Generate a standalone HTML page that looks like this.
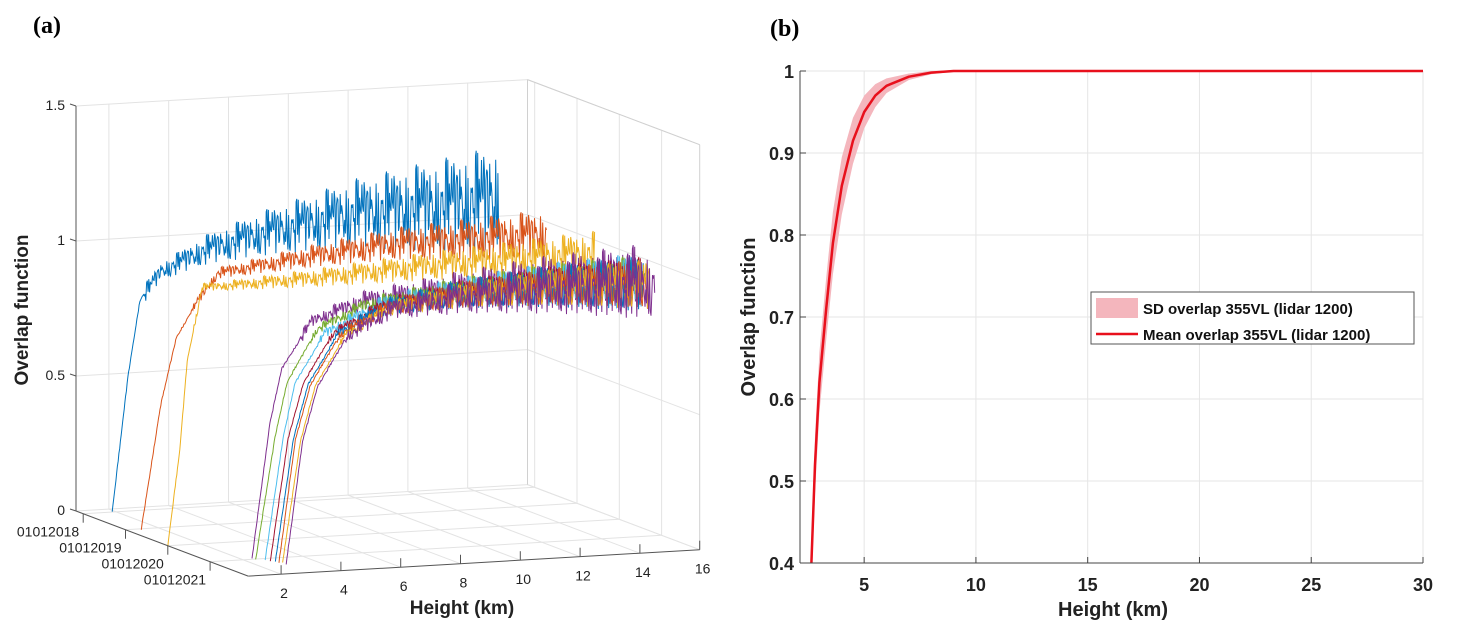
<!DOCTYPE html>
<html><head><meta charset="utf-8">
<style>
body{margin:0;background:#fff;}
svg{display:block;font-family:"Liberation Sans",Arial,sans-serif;}
</style></head>
<body>
<svg id="fig" width="1467" height="642" viewBox="0 0 1467 642">
<text x="33" y="33" font-family="Liberation Serif,serif" font-weight="bold" font-size="24">(a)</text>
<text x="770" y="36" font-family="Liberation Serif,serif" font-weight="bold" font-size="24">(b)</text>
<g id="pa"></g>
<g id="pb"></g>
</svg>
<script>
// ---------- Panel (a) data ----------
const yearLabels = ["01012018","01012019","01012020","01012021"];
const heightTicks = [2,4,6,8,10,12,14,16];
const zTicks = [0,0.5,1,1.5];
const seriesColors = ["#0072BD","#D95319","#EDB120","#7E2F8E","#77AC30","#4DBEEE","#A2142F","#0072BD","#D95319","#EDB120","#7E2F8E"];
const seriesDates = [0,1,2,3.0,3.05,3.1,3.15,3.2,3.25,3.3,3.35];
const seriesEnd = [14.8,15,15.2,15.2,15.2,15.2,15.2,15.2,15.2,15.2,15.3];
const anchorH = [
 [1.87,2.4,2.8,3.5,5,7,10,14.8],
 [1.43,2.07,2.6,3.3,4,7,10,15],
 [0.9,1.3,1.55,2.05,3,6,10,15.2],
 [2.3,2.9,3.3,4.3,6,9,12,15.2],
 [2.35,3.0,3.4,4.4,6,9,12,15.2],
 [2.6,3.2,3.6,4.6,6.5,9,12,15.2],
 [2.7,3.3,3.8,4.8,6.5,9,12,15.2],
 [2.8,3.4,3.9,4.9,6.5,9,12,15.2],
 [2.85,3.4,3.9,4.9,6.5,9,12,15.2],
 [2.9,3.5,4.0,5.0,6.5,9,12,15.2],
 [2.95,3.5,4.0,5.0,6.5,9,12,15.3]
];
const anchorZ = [
 [0,0.5,0.78,0.88,0.95,1.0,1.05,1.07],
 [0,0.45,0.7,0.83,0.93,0.97,1.0,1.0],
 [0,0.35,0.68,0.95,0.95,0.96,0.98,0.99],
 [0,0.5,0.7,0.87,0.93,0.95,0.96,0.95],
 [0,0.45,0.65,0.84,0.92,0.95,0.96,0.95],
 [0,0.45,0.65,0.83,0.92,0.95,0.96,0.95],
 [0,0.45,0.65,0.83,0.92,0.95,0.96,0.95],
 [0,0.45,0.65,0.83,0.92,0.95,0.96,0.95],
 [0,0.45,0.65,0.83,0.92,0.95,0.96,0.95],
 [0,0.45,0.65,0.83,0.92,0.95,0.96,0.95],
 [0,0.45,0.65,0.83,0.92,0.95,0.96,0.95]
];
const noiseAmp = [0.17,0.08,0.07,0.11,0.08,0.09,0.08,0.09,0.08,0.08,0.11];
const noisePattern = [0.3,-0.5,0.9,-0.2,0.1,-0.8,0.6,0.2,-0.4,1.0,-0.6,0.0,0.5,-0.9,0.3,0.7,-0.3,-0.1,0.8,-0.7,0.4,-0.2,0.1,0.95,-0.5,0.2,-0.85,0.6,-0.1,0.35,-0.6,0.75,0.05,-0.35,0.55,-0.95,0.15,0.45,-0.25,0.85];

// ---------- Panel (b) data ----------
const meanH = [2.6,2.8,3.0,3.3,3.6,4.0,4.5,5,5.5,6,7,8,9,10,30];
const meanV = [0.37,0.52,0.62,0.71,0.79,0.86,0.915,0.95,0.97,0.982,0.993,0.998,1,1,1];
const sdV = [0.03,0.035,0.037,0.038,0.038,0.035,0.028,0.02,0.014,0.009,0.004,0.002,0.001,0,0];
const bxTicks = [5,10,15,20,25,30];
const byTicks = [0.4,0.5,0.6,0.7,0.8,0.9,1];

const NS="http://www.w3.org/2000/svg";
function mk(parent,tag,attrs,text){const e=document.createElementNS(NS,tag);for(const k in attrs)e.setAttribute(k,attrs[k]);if(text!==undefined)e.textContent=text;parent.appendChild(e);return e;}

// ----- Panel (a) -----
const pa=document.getElementById('pa');
const HMIN=0.9,HMAX=16,DMIN=-0.17,DMAX=3.9;
function P(h,d,z){return [76+(d-DMIN)*42.3+(h-HMIN)*29.9, 511+(d-DMIN)*16-(h-HMIN)*1.75-z*270];}
function line(g,a,b,stroke,w,name){const l=mk(g,'line',{x1:a[0].toFixed(1),y1:a[1].toFixed(1),x2:b[0].toFixed(1),y2:b[1].toFixed(1),stroke:stroke,'stroke-width':w});

return l;}
const gl="#e3e3e3";
heightTicks.forEach(h=>{line(pa,P(h,DMIN,0),P(h,DMIN,1.5),gl,1,'back-grid-v');});
zTicks.forEach(z=>{line(pa,P(HMIN,DMIN,z),P(HMAX,DMIN,z),gl,1,'back-grid-h');line(pa,P(HMAX,DMIN,z),P(HMAX,DMAX,z),gl,1,'side-grid-h');});
[0,1,2,3].forEach(d=>{line(pa,P(HMAX,d,0),P(HMAX,d,1.5),gl,1,'side-grid-v');line(pa,P(HMIN,d,0),P(HMAX,d,0),gl,1,'floor-grid-d');});
heightTicks.forEach(h=>{line(pa,P(h,DMIN,0),P(h,DMAX,0),gl,1,'floor-grid-h');});
line(pa,P(HMAX,DMIN,0),P(HMAX,DMIN,1.5),"#d0d0d0",1,'box-edge');
line(pa,P(HMAX,DMAX,0),P(HMAX,DMAX,1.5),"#d0d0d0",1,'box-edge');
line(pa,P(HMAX,DMIN,1.5),P(HMAX,DMAX,1.5),"#d0d0d0",1,'box-edge');
function interp(xs,ys,x){if(x<=xs[0])return ys[0];for(let i=1;i<xs.length;i++){if(x<=xs[i]){const t=(x-xs[i-1])/(xs[i]-xs[i-1]);return ys[i-1]+t*(ys[i]-ys[i-1]);}}return ys[ys.length-1];}
for(let s=0;s<seriesColors.length;s++){
  const hs=anchorH[s],zs=anchorZ[s],d=seriesDates[s];
  let pts=[];let i=0;
  for(let h=hs[0];h<=seriesEnd[s];h+=0.025,i++){
    let z=interp(hs,zs,h);
    const prog=Math.max(0,(h-hs[3])/(seriesEnd[s]-hs[3]));
    const amp=(z>0.8?noiseAmp[s]*(0.2+prog):0.004);
    z+=amp*noisePattern[(i*7+s*13)%noisePattern.length];
    const p=P(h,d,z);pts.push(p[0].toFixed(1)+','+p[1].toFixed(1));
  }
  const pl=mk(pa,'polyline',{points:pts.join(' '),fill:'none',stroke:seriesColors[s],'stroke-width':1});
  
  
}
line(pa,P(HMIN,DMIN,0),P(HMIN,DMIN,1.5),"#555",1,'z-axis');
line(pa,P(HMIN,DMIN,0),P(HMIN,DMAX,0),"#555",1,'date-axis');
line(pa,P(HMIN,DMAX,0),P(HMAX,DMAX,0),"#555",1,'height-axis');
zTicks.forEach(z=>{const p=P(HMIN,DMIN,z);line(pa,p,[p[0]-6,p[1]-2],"#555",1,'z-tick');
 const t=mk(pa,'text',{x:p[0]-11,y:p[1]+4,'text-anchor':'end','font-size':14,fill:'#222'},String(z));
 });
yearLabels.forEach((lab,d)=>{const p=P(HMIN,d,0);line(pa,p,[p[0],p[1]+9],"#555",1,'date-tick');
 const t=mk(pa,'text',{x:p[0]-4,y:p[1]+23,'text-anchor':'end','font-size':14,fill:'#222'},lab);
 });
heightTicks.forEach(h=>{const p=P(h,DMAX,0);line(pa,p,[p[0],p[1]-9],"#555",1,'height-tick');
 const t=mk(pa,'text',{x:p[0]+3,y:p[1]+24,'text-anchor':'middle','font-size':14,fill:'#222'},String(h));
 });
let t1=mk(pa,'text',{x:462,y:614,'text-anchor':'middle','font-size':19,'font-weight':'bold',fill:'#222'},'Height (km)');

let t2=mk(pa,'text',{x:0,y:0,'text-anchor':'middle','font-size':19,'font-weight':'bold',fill:'#222',transform:'translate(28,310) rotate(-90)'},'Overlap function');


// ----- Panel (b) -----
const pb=document.getElementById('pb');
const L=800,R=1423,T=71,B=563,XMIN=2.13,XMAX=30,YMIN=0.4,YMAX=1.0;
const sx=v=>L+(v-XMIN)/(XMAX-XMIN)*(R-L);
const sy=v=>B-(v-YMIN)/(YMAX-YMIN)*(B-T);
const defs=mk(pb,'defs',{});const cp=mk(defs,'clipPath',{id:'clipb'});mk(cp,'rect',{x:L,y:T-3,width:R-L+2,height:B-T+3});
bxTicks.forEach(v=>{const l=mk(pb,'line',{x1:sx(v),x2:sx(v),y1:T,y2:B,stroke:'#e6e6e6'});});
byTicks.forEach(v=>{const l=mk(pb,'line',{x1:L,x2:R,y1:sy(v),y2:sy(v),stroke:'#e6e6e6'});});
const cg=mk(pb,'g',{'clip-path':'url(#clipb)'});
let up=[],dn=[];
for(let i=0;i<meanH.length;i++){up.push(sx(meanH[i]).toFixed(1)+','+sy(meanV[i]+sdV[i]).toFixed(1));dn.unshift(sx(meanH[i]).toFixed(1)+','+sy(meanV[i]-sdV[i]).toFixed(1));}
const band=mk(cg,'polygon',{points:up.concat(dn).join(' '),fill:'#f4b6bd'});

const ml=mk(cg,'polyline',{points:meanH.map((h,i)=>sx(h).toFixed(1)+','+sy(meanV[i]).toFixed(1)).join(' '),fill:'none',stroke:'#e8101c','stroke-width':2.5,'stroke-linejoin':'round'});

mk(pb,'line',{x1:L,x2:L,y1:T,y2:B,stroke:'#444'});
mk(pb,'line',{x1:L,x2:R,y1:B,y2:B,stroke:'#444'});
bxTicks.forEach(v=>{mk(pb,'line',{x1:sx(v),x2:sx(v),y1:B,y2:B-6,stroke:'#444'});
 const t=mk(pb,'text',{x:sx(v),y:B+28,'text-anchor':'middle','font-size':18,'font-weight':'bold',fill:'#222'},String(v));
 });
byTicks.forEach(v=>{mk(pb,'line',{x1:L,x2:L+6,y1:sy(v),y2:sy(v),stroke:'#444'});
 const t=mk(pb,'text',{x:L-6,y:sy(v)+7,'text-anchor':'end','font-size':18,'font-weight':'bold',fill:'#222'},String(v));
 });
let t3=mk(pb,'text',{x:1113,y:616,'text-anchor':'middle','font-size':20,'font-weight':'bold',fill:'#222'},'Height (km)');

let t4=mk(pb,'text',{x:0,y:0,'text-anchor':'middle','font-size':20,'font-weight':'bold',fill:'#222',transform:'translate(755,317) rotate(-90)'},'Overlap function');

const lg=mk(pb,'g',{});
mk(lg,'rect',{x:1091,y:292,width:323,height:52,fill:'#fff',stroke:'#555'});
mk(lg,'rect',{x:1096,y:298,width:42,height:20,fill:'#f4b6bd'});
mk(lg,'line',{x1:1096,x2:1138,y1:334,y2:334,stroke:'#e8101c','stroke-width':2.5});
let l1=mk(lg,'text',{x:1143,y:314,'font-size':15,'font-weight':'bold',fill:'#111'},'SD overlap 355VL (lidar 1200)');

let l2=mk(lg,'text',{x:1143,y:340,'font-size':15,'font-weight':'bold',fill:'#111'},'Mean overlap 355VL (lidar 1200)');

</script>
</body></html>
